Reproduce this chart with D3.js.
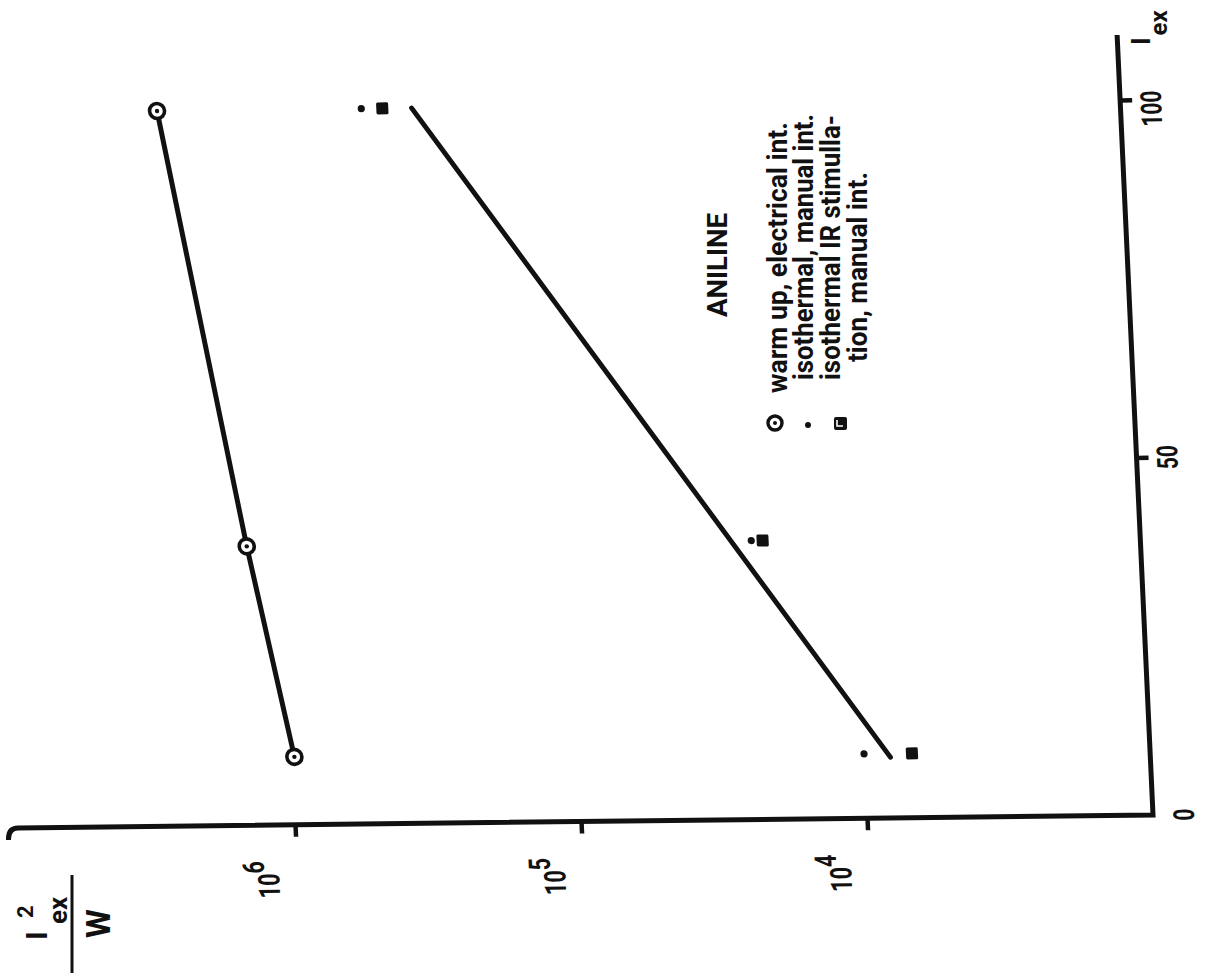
<!DOCTYPE html>
<html>
<head>
<meta charset="utf-8">
<script src="https://cdn.jsdelivr.net/npm/d3@7"></script>
<style>
  body { margin: 0; background: #fff; }
  svg { display: block; }
</style>
</head>
<body>
<svg id="chart" width="1213" height="977"></svg>
<script>
// Excitation current I_ex at which each run was taken
const warmUpCurrents = [9.5, 39, 100];
const isoCurrents = [9, 39, 100];
// I_ex^2 / W for each series
const warmUpValues = [9.8e5, 1.33e6, 2.33e6];      // warm up, electrical int.
const isoManualValues = [1.0e4, 2.29e4, 4.5e5];    // isothermal, manual int.
const isoIRValues = [6.8e3, 2.09e4, 3.8e5];        // isothermal IR stimulation, manual int.
// straight line drawn through the isothermal runs
const fitCurrents = [8.5, 100];
const fitValues = [8.1e3, 3.0e5];
// axis ticks
const logTicks = [1e4, 1e5, 1e6];
const logTickExponents = ["4", "5", "6"];
const currentTicks = [0, 50, 100];
// legend text
const legendTitle = "ANILINE";
const legendLines = [
  "warm up,  electrical int.",
  "isothermal,  manual int.",
  "isothermal  IR stimulla-",
  "tion,  manual int."
];

const W = 1213, H = 977;
const ink = "#111";
const font = "Roboto,'Liberation Sans','DejaVu Sans',sans-serif";
const weight = 700;

const svg = d3.select("#chart");
svg.append("rect").attr("width", W).attr("height", H).attr("fill", "#fff");

// squeeze a text element to mimic a condensed typeface
function condense(sel, factor) {
  sel.each(function () {
    const len = this.getComputedTextLength();
    d3.select(this).attr("textLength", len * factor).attr("lengthAdjust", "spacingAndGlyphs");
  });
}

// The figure is laid on its side: I_ex runs up the right edge,
// I_ex^2/W (log) runs right-to-left along the bottom edge.
const ox = 1153, oy = 815;
const iScale = d3.scaleLinear().domain([0, 100]).range([oy, 100]);
const vScale = d3.scaleLog().domain([1e4, 1e6]).range([867, 295]);

// slight shear of the drawing sheet
const shearX = 0.046, shearY = -0.0114;
const plot = svg.append("g")
  .attr("transform", `matrix(1,${shearY},${shearX},1,${-shearX * oy},${-shearY * ox})`);

// axis frame
plot.append("path")
  .attr("d", `M8,${oy + 12} Q8,${oy} 18,${oy} L${ox},${oy} L${ox},35`)
  .attr("fill", "none").attr("stroke", ink).attr("stroke-width", 5)
  .attr("stroke-linejoin", "miter");

const gv = plot.append("g").attr("transform", `translate(0,${oy})`)
  .call(d3.axisBottom(vScale).tickValues(logTicks).tickSize(12).tickFormat(""));
gv.select(".domain").remove();
gv.selectAll(".tick line").attr("stroke", ink).attr("stroke-width", 4.5);

const gi = plot.append("g").attr("transform", `translate(${ox},0)`)
  .call(d3.axisRight(iScale).tickValues(currentTicks.filter(d => d > 0)).tickSize(12).tickFormat(""));
gi.select(".domain").remove();
gi.selectAll(".tick line").attr("stroke", ink).attr("stroke-width", 4.5);

// tick labels
logTicks.forEach((v, k) => {
  const t = plot.append("text")
    .attr("transform", `translate(${vScale(v) - 18},${oy + 36}) rotate(-90)`)
    .attr("text-anchor", "end")
    .attr("font-family", font).attr("font-weight", weight).attr("font-size", 30).attr("fill", ink);
  t.append("tspan").text("10");
  t.append("tspan").attr("dy", -15).text(logTickExponents[k]);
  condense(t, 0.72);
});

currentTicks.forEach(v => {
  const t = plot.append("text")
    .attr("transform", `translate(${ox + 41},${iScale(v) + (v === 100 ? 9 : 0)}) rotate(-90)`)
    .attr("text-anchor", "middle")
    .attr("font-family", font).attr("font-weight", weight).attr("font-size", 29).attr("fill", ink)
    .text(v);
  condense(t, 0.72);
});

// lines
const line = d3.line().x(d => vScale(d[1])).y(d => iScale(d[0]));
plot.append("path")
  .attr("d", line(warmUpCurrents.map((c, k) => [c, warmUpValues[k]])))
  .attr("fill", "none").attr("stroke", ink).attr("stroke-width", 5).attr("stroke-linecap", "round");
plot.append("path")
  .attr("d", line(fitCurrents.map((c, k) => [c, fitValues[k]])))
  .attr("fill", "none").attr("stroke", ink).attr("stroke-width", 5).attr("stroke-linecap", "round");

// markers: warm up (circle with centre dot)
const wu = plot.append("g").selectAll("g")
  .data(warmUpCurrents.map((c, k) => [c, warmUpValues[k]]))
  .join("g")
  .attr("transform", d => `translate(${vScale(d[1])},${iScale(d[0])})`);
wu.append("circle").attr("r", 7.5).attr("fill", "#fff").attr("stroke", ink).attr("stroke-width", 3.6);
wu.append("circle").attr("r", 2.2).attr("fill", ink);

// isothermal, manual int. (small dots)
plot.append("g").selectAll("circle")
  .data(isoCurrents.map((c, k) => [c, isoManualValues[k]]))
  .join("circle")
  .attr("cx", d => vScale(d[1])).attr("cy", d => iScale(d[0]))
  .attr("r", 3.6).attr("fill", ink);

// isothermal IR stimulation (filled squares)
plot.append("g").selectAll("rect")
  .data(isoCurrents.map((c, k) => [c, isoIRValues[k]]))
  .join("rect")
  .attr("x", d => vScale(d[1]) - 6).attr("y", d => iScale(d[0]) - 6)
  .attr("width", 12).attr("height", 12).attr("rx", 1.5).attr("fill", ink);

// axis titles
const iTitle = svg.append("text")
  .attr("transform", "translate(1150,45) rotate(-90)")
  .attr("font-family", font).attr("font-weight", weight).attr("font-size", 26).attr("fill", ink);
iTitle.append("tspan").text("I");
iTitle.append("tspan").attr("dy", 17).attr("dx", 2).attr("font-size", 24).text("ex");

const vTitle = svg.append("g").attr("font-family", font).attr("font-weight", weight).attr("fill", ink);
vTitle.append("text").attr("transform", "translate(47,940) rotate(-90)").attr("font-size", 30).text("I");
vTitle.append("text").attr("transform", "translate(33,918) rotate(-90)").attr("font-size", 22).text("2");
vTitle.append("text").attr("transform", "translate(67,924) rotate(-90)").attr("font-size", 26).text("ex");
vTitle.append("line").attr("x1", 72).attr("x2", 72).attr("y1", 875).attr("y2", 973)
  .attr("stroke", ink).attr("stroke-width", 3);
vTitle.append("text").attr("transform", "translate(110,938) rotate(-90)").attr("font-size", 33).text("W");

// legend
const legend = svg.append("g").attr("font-family", font).attr("font-weight", weight).attr("fill", ink);
legend.append("text")
  .attr("transform", "translate(727,265) rotate(-90)")
  .attr("text-anchor", "middle").attr("font-size", 27)
  .attr("textLength", 104).attr("lengthAdjust", "spacingAndGlyphs")
  .text(legendTitle);

const legendRows = [
  { x: 787, y: 393, len: 271 },
  { x: 813, y: 380, len: 266 },
  { x: 840, y: 380, len: 265 },
  { x: 867, y: 362, len: 190 }
];
legendLines.forEach((s, k) => {
  legend.append("text")
    .attr("transform", `translate(${legendRows[k].x},${legendRows[k].y}) rotate(-90)`)
    .attr("font-size", 28)
    .attr("textLength", legendRows[k].len).attr("lengthAdjust", "spacingAndGlyphs")
    .text(s);
});

// legend symbols
legend.append("circle").attr("cx", 775).attr("cy", 423).attr("r", 7).attr("fill", "#fff")
  .attr("stroke", ink).attr("stroke-width", 3.4);
legend.append("circle").attr("cx", 775).attr("cy", 423).attr("r", 2).attr("fill", ink);
legend.append("circle").attr("cx", 808).attr("cy", 425).attr("r", 3).attr("fill", ink);
legend.append("rect").attr("x", 834).attr("y", 417).attr("width", 13).attr("height", 13)
  .attr("rx", 2).attr("fill", ink);
legend.append("path").attr("d", "M837,420 L837,426 L843,426")
  .attr("fill", "none").attr("stroke", "#fff").attr("stroke-width", 1.6);
</script>
</body>
</html>
